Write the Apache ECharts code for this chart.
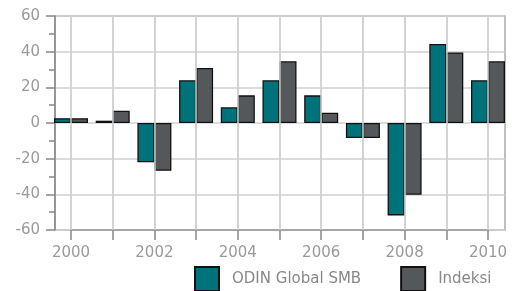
<!DOCTYPE html>
<html>
<head>
<meta charset="utf-8">
<script src="https://cdn.jsdelivr.net/npm/echarts@6/dist/echarts.min.js"></script>
<style>
  html, body { margin: 0; padding: 0; background: #fff; }
  #main { width: 517px; height: 291px; }
</style>
</head>
<body>
<div id="main"></div>
<script>
// år og avkastning i prosent
var years = [2000, 2001, 2002, 2003, 2004, 2005, 2006, 2007, 2008, 2009, 2010]
var yearLabels = ['2000', '2002', '2004', '2006', '2008', '2010']
var odin = [2.7, 1.3, -22, 24, 8.8, 24, 15.5, -8.4, -51.8, 44.3, 24]
var indeksi = [2.7, 6.9, -26.8, 30.8, 15.5, 34.6, 5.8, -8.4, -40.2, 39.6, 34.6]
var seriesNames = ['ODIN Global SMB', 'Indeksi']

var font = 'DejaVu Sans'
var grey = '#9a9a9a'
var gridLine = { color: '#d0d0d0', width: 1.5, type: 'solid' }

function pairs(values) {
  return values.map(function (v, i) { return [years[i], v] })
}

var myChart = echarts.init(document.getElementById('main'))
var option = {
  animation: false,
  textStyle: { fontFamily: font },
  grid: [
    // plot frame, y axis, horizontal lines
    { left: 55, right: 12, top: 16, bottom: 61, show: true, backgroundColor: 'rgba(0,0,0,0)', borderColor: '#aaa', borderWidth: 1.5 },
    // years, vertical lines and bars
    { left: 71, right: 29, top: 16, bottom: 61, show: false }
  ],
  xAxis: [
    { gridIndex: 0, type: 'value', min: 1999.6, max: 2010.4, show: false },
    {
      gridIndex: 1,
      type: 'value',
      position: 'bottom',
      min: years[0], max: years[years.length - 1], interval: 1,
      axisLine: { show: true, onZero: false, lineStyle: { color: '#999', width: 1.5 } },
      axisTick: { show: true, length: 10, lineStyle: { color: '#888', width: 1.5 } },
      axisLabel: {
        margin: 16, color: grey, fontSize: 15, fontFamily: font,
        formatter: function (v) { return yearLabels.indexOf(String(v)) >= 0 ? String(v) : '' }
      },
      splitLine: { show: true, lineStyle: gridLine }
    }
  ],
  yAxis: [
    {
      gridIndex: 0,
      type: 'value',
      min: -60, max: 60, interval: 20,
      axisLine: { show: true, lineStyle: { color: '#888', width: 1.5 } },
      axisTick: { show: true, length: 9, lineStyle: { color: '#888', width: 1.5 } },
      minorTick: { show: true, splitNumber: 2, length: 6, lineStyle: { color: '#888', width: 1.5 } },
      axisLabel: { margin: 15, color: grey, fontSize: 15, fontFamily: font },
      splitLine: { show: true, lineStyle: gridLine }
    },
    {
      gridIndex: 1, type: 'value', min: -60, max: 60,
      axisLine: { show: false }, axisTick: { show: false }, axisLabel: { show: false },
      splitLine: { show: false }
    }
  ],
  legend: {
    left: 189, top: 261,
    itemWidth: 24, itemHeight: 24, itemGap: 39,
    icon: 'rect',
    textStyle: { color: '#888', fontSize: 15, fontFamily: font, padding: [0, 0, 0, 8] },
    data: seriesNames
  },
  series: [
    {
      // vertical year lines
      name: '_years',
      type: 'line',
      xAxisIndex: 1, yAxisIndex: 1,
      z: 1,
      data: [],
      markLine: {
        silent: true,
        animation: false,
        symbol: ['none', 'none'],
        label: { show: false },
        lineStyle: gridLine,
        data: years.map(function (y) { return { xAxis: y } })
      }
    },
    {
      name: seriesNames[0],
      type: 'bar',
      xAxisIndex: 1, yAxisIndex: 1,
      barWidth: 17, barGap: '0%', clip: false,
      z: 3,
      itemStyle: { color: '#00737a', borderColor: '#111', borderWidth: 1.3 },
      data: pairs(odin)
    },
    {
      name: seriesNames[1],
      type: 'bar',
      xAxisIndex: 1, yAxisIndex: 1,
      barWidth: 17, barGap: '0%', clip: false,
      z: 3,
      itemStyle: { color: '#55585b', borderColor: '#111', borderWidth: 1.3 },
      data: pairs(indeksi)
    }
  ]
}
myChart.setOption(option)
</script>
</body>
</html>
